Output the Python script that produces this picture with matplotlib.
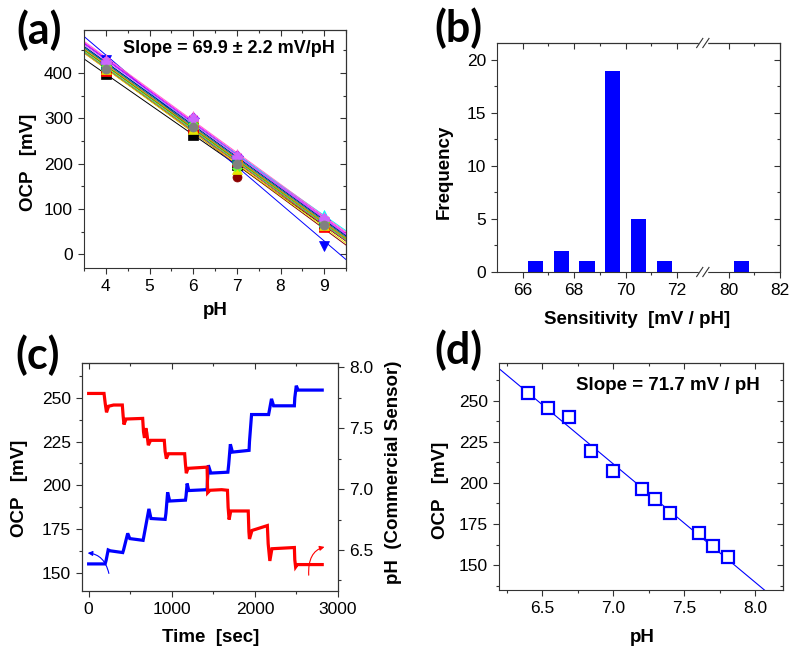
import numpy as np
import matplotlib
matplotlib.use("Agg")
import matplotlib.pyplot as plt
from matplotlib.ticker import MultipleLocator, FixedLocator

plt.rcParams['font.family'] = ['Liberation Sans', 'DejaVu Sans']

# ---------------- (a) OCP vs pH for each sensor ----------------
PH_LEVELS = [4, 6, 7, 9]
SENSOR_OCP = [
    [398, 263, 198, 63],
    [405, 278, 205, 60],
    [428, 288, 205, 18],
    [412, 285, 205, 66],
    [428, 302, 218, 80],
    [422, 296, 212, 88],
    [415, 282, 170, 68],
    [410, 276, 188, 64],
    [425, 300, 216, 76],
    [414, 286, 204, 70],
    [420, 294, 212, 74],
    [430, 305, 222, 82],
    [416, 288, 206, 70],
    [418, 290, 210, 72],
    [411, 284, 196, 68],
    [424, 298, 214, 78],
    [409, 280, 200, 65],
]
SENSOR_COLORS = ['black', 'red', 'blue', '#00cc00', 'magenta', 'cyan', '#8b0000',
                 '#e6e600', '#8000ff', '#808000', '#000080', '#ff66cc', '#ff8000',
                 '#008080', '#66ff33', '#cc66ff', 'gray']
SENSOR_MARKERS = ['s', 's', 'v', 'o', '*', '^', 'o', '^', 'D', 'h', 'p', '*', '<',
                  '>', 'X', 'P', 'o']
SLOPE_A = "Slope = 69.9 \u00b1 2.2 mV/pH"

# ---------------- (b) histogram of sensitivities ----------------
SENS_BINS = [66.5, 67.5, 68.5, 69.5, 70.5, 71.5, 80.5]
SENS_COUNTS = [1, 2, 1, 19, 5, 1, 1]
BREAK_LO, BREAK_HI = 73, 79          # axis jumps from 73 to 79
SENS_TICKS = [66, 68, 70, 72, 80, 82]

# ---------------- (c) time trace ----------------
OCP_T = [0, 198, 210, 235, 260, 410, 420, 470, 495, 655, 665, 725, 750, 920,
         930, 950, 975, 1165, 1172, 1185, 1205, 1425, 1430, 1440, 1470, 1675,
         1685, 1705, 1730, 1930, 1935, 1960, 2165, 2175, 2200, 2225, 2475, 2480,
         2498, 2520, 2810]
OCP_MV = [155, 155, 157, 163, 162.5, 161.5, 163, 172.5, 169.5, 168.5, 171, 186.5,
          181, 180.5, 184, 196, 191, 191.5, 194, 201, 197, 197.5, 203, 211.5, 207,
          207.5, 212, 223.5, 219, 220, 225, 240.5, 240.5, 243, 249.5, 245.5, 245.5,
          250, 257, 254.5, 254.5]
PH_T = [0, 185, 200, 215, 240, 300, 405, 415, 425, 450, 650, 660, 672, 688, 700,
        718, 745, 910, 920, 935, 960, 1155, 1165, 1175, 1195, 1425, 1432, 1460,
        1600, 1670, 1678, 1690, 1710, 1920, 1928, 1935, 1965, 2150, 2160, 2180,
        2205, 2475, 2480, 2490, 2510, 2810]
PH_VAL = [7.785, 7.785, 7.70, 7.63, 7.68, 7.69, 7.69, 7.60, 7.53, 7.575, 7.58,
          7.47, 7.42, 7.50, 7.46, 7.36, 7.40, 7.40, 7.31, 7.25, 7.29, 7.29, 7.20,
          7.13, 7.17, 7.18, 6.97, 6.99, 6.995, 6.99, 6.85, 6.75, 6.82, 6.82, 6.65,
          6.59, 6.66, 6.70, 6.55, 6.41, 6.51, 6.52, 6.42, 6.36, 6.38, 6.38]

# ---------------- (d) calibration ----------------
CAL_PH = [6.40, 6.54, 6.69, 6.84, 7.00, 7.20, 7.29, 7.40, 7.60, 7.70, 7.81]
CAL_OCP = [254.5, 245.7, 239.9, 219.6, 207.2, 196.2, 190.2, 181.4, 169.3, 161.8, 154.7]
SLOPE_D = "Slope = 71.7 mV / pH"

W, H = 800, 657
fig = plt.figure(figsize=(W / 100, H / 100), dpi=100)


def px_axes(l, t, r, b):
    return fig.add_axes([l / W, 1 - b / H, (r - l) / W, (b - t) / H])


def px_text(x, y, s, **kw):
    fig.text(x / W, 1 - y / H, s, ha='center', va='center', **kw)


TICK_KW = dict(labelsize=12.5, width=0.8, color='#333333')


def base_ticks(ax):
    ax.tick_params(which='both', direction='out', **TICK_KW)
    ax.tick_params(which='major', length=4.5)
    ax.tick_params(which='minor', length=2.5)
    for s in ax.spines.values():
        s.set_linewidth(0.8)
        s.set_color('#333333')


def mirror(ax, xmaj, xmin, ymaj=None, ymin=None):
    # Origin style: top/right ticks point inward, bottom/left point outward
    top = ax.secondary_xaxis('top')
    top.xaxis.set_major_locator(xmaj)
    top.xaxis.set_minor_locator(xmin)
    top.tick_params(which='both', direction='in', labeltop=False, **TICK_KW)
    top.tick_params(which='major', length=4.5)
    top.tick_params(which='minor', length=2.5)
    if ymaj is not None:
        right = ax.secondary_yaxis('right')
        right.yaxis.set_major_locator(ymaj)
        right.yaxis.set_minor_locator(ymin)
        right.tick_params(which='both', direction='in', labelright=False, **TICK_KW)
        right.tick_params(which='major', length=4.5)
        right.tick_params(which='minor', length=2.5)


LETTER_KW = dict(fontsize=31, fontweight='bold', family=['Lato', 'DejaVu Sans'])
LABEL_KW = dict(fontsize=13.5, fontweight='bold')

# ---------- (a) ----------
axa = px_axes(84, 30, 346, 268)
xfit = np.array([3.0, 10.0])
for vals, c in zip(SENSOR_OCP, SENSOR_COLORS):
    coef = np.polyfit(PH_LEVELS, vals, 1)
    axa.plot(xfit, np.polyval(coef, xfit), color=c, lw=0.7, zorder=2)
for vals, c, m in zip(SENSOR_OCP, SENSOR_COLORS, SENSOR_MARKERS):
    axa.plot(PH_LEVELS, vals, ls='none', marker=m, color=c, ms=6.5, mew=0.5,
             mec=c, zorder=3)
axa.set_xlim(3.5, 9.5)
axa.set_ylim(-30, 495)
axa.xaxis.set_major_locator(MultipleLocator(1))
axa.xaxis.set_minor_locator(MultipleLocator(0.5))
axa.yaxis.set_major_locator(FixedLocator([0, 100, 200, 300, 400]))
axa.yaxis.set_minor_locator(FixedLocator([50, 150, 250, 350, 450]))
base_ticks(axa)
mirror(axa, MultipleLocator(1), MultipleLocator(0.5),
       FixedLocator([0, 100, 200, 300, 400]), FixedLocator([50, 150, 250, 350, 450]))
axa.text(0.553, 0.924, SLOPE_A, transform=axa.transAxes, ha='center', va='center',
         fontsize=13, fontweight='bold')
px_text(29, 162, "OCP   [mV]", rotation=90, **LABEL_KW)
px_text(215, 311, "pH", **LABEL_KW)
px_text(39, 30, "(a)", **LETTER_KW)

# ---------- (b) ----------
axb = px_axes(497, 43, 780, 272)


def brk(v):
    v = np.asarray(v, dtype=float)
    return np.where(v > BREAK_LO, v - (BREAK_HI - BREAK_LO), v)


axb.bar(brk(SENS_BINS), SENS_COUNTS, width=0.6, color='#0000ff', zorder=2)
axb.set_xlim(65, 76)
axb.set_ylim(0, 21.6)
axb.xaxis.set_major_locator(FixedLocator(brk(SENS_TICKS)))
axb.set_xticklabels([str(t) for t in SENS_TICKS])
axb.xaxis.set_minor_locator(FixedLocator(brk([67, 69, 71, 81])))
axb.yaxis.set_major_locator(MultipleLocator(5))
axb.yaxis.set_minor_locator(MultipleLocator(2.5))
base_ticks(axb)
mirror(axb, FixedLocator(brk(SENS_TICKS)), FixedLocator(brk([67, 69, 71, 81])),
       MultipleLocator(5), MultipleLocator(2.5))
# break marks on bottom and top spines
tr = axb.get_xaxis_transform()
for yb in (0, 1):
    axb.plot([BREAK_LO - 0.12, BREAK_LO + 0.12], [yb, yb], transform=tr, color='white',
             lw=2.5, clip_on=False, zorder=5)
    for dx in (-0.12, 0.12):
        axb.plot([BREAK_LO + dx - 0.12, BREAK_LO + dx + 0.12], [yb - 0.02, yb + 0.02],
                 transform=tr, color='#333333', lw=0.8, clip_on=False, zorder=6)
px_text(444, 172, "Frequency", rotation=90, **LABEL_KW)
px_text(637, 320, "Sensitivity  [mV / pH]", **LABEL_KW)
px_text(458, 28, "(b)", **LETTER_KW)

# ---------- (c) ----------
axc = px_axes(82, 363, 338, 591)
axc.plot(OCP_T, OCP_MV, color='#0000ff', lw=2.3, solid_joinstyle='miter')
axc.set_xlim(-80, 3000)
axc.set_ylim(139.5, 270)
axc.xaxis.set_major_locator(MultipleLocator(1000))
axc.xaxis.set_minor_locator(MultipleLocator(500))
axc.yaxis.set_major_locator(FixedLocator([150, 175, 200, 225, 250]))
axc.yaxis.set_minor_locator(FixedLocator([137.5, 162.5, 187.5, 212.5, 237.5, 262.5]))
base_ticks(axc)
axc.tick_params(right=False)
mirror(axc, MultipleLocator(1000), MultipleLocator(500))
axc.annotate("", xy=(-45, 161.3), xytext=(250, 148),
             arrowprops=dict(arrowstyle='-|>', color='#0000ff', lw=0.8,
                             mutation_scale=7,
                             connectionstyle='angle3,angleA=100,angleB=0'))
axc2 = axc.twinx()
axc2.plot(PH_T, PH_VAL, color='#ff0000', lw=2.3, solid_joinstyle='miter')
axc2.set_ylim(6.163, 8.035)
axc2.yaxis.set_major_locator(MultipleLocator(0.5))
axc2.yaxis.set_minor_locator(MultipleLocator(0.25))
axc2.yaxis.set_major_formatter(matplotlib.ticker.FormatStrFormatter('%.1f'))
base_ticks(axc2)
axc2.annotate("", xy=(2870, 6.53), xytext=(2650, 6.27),
              arrowprops=dict(arrowstyle='-|>', color='#ff0000', lw=0.8,
                              mutation_scale=7,
                              connectionstyle='angle3,angleA=95,angleB=10'))
px_text(20, 488, "OCP   [mV]", rotation=90, **LABEL_KW)
px_text(211, 637, "Time  [sec]", **LABEL_KW)
px_text(394, 472, "pH  (Commercial Sensor)", rotation=90, **LABEL_KW)
px_text(38, 355, "(c)", **LETTER_KW)

# ---------- (d) ----------
axd = px_axes(499, 363, 783, 590)
coef_d = np.polyfit(CAL_PH, CAL_OCP, 1)
xline = np.array([6.0, 8.4])
axd.plot(xline, np.polyval(coef_d, xline), color='#0000ff', lw=0.8)
axd.plot(CAL_PH, CAL_OCP, ls='none', marker='s', ms=8.5, mfc='white', mec='#0000ff',
         mew=1.6)
axd.set_xlim(6.194, 8.195)
axd.set_ylim(134.8, 273)
axd.xaxis.set_major_locator(MultipleLocator(0.5))
axd.xaxis.set_minor_locator(MultipleLocator(0.25))
axd.xaxis.set_major_formatter(matplotlib.ticker.FormatStrFormatter('%.1f'))
axd.yaxis.set_major_locator(FixedLocator([150, 175, 200, 225, 250]))
axd.yaxis.set_minor_locator(FixedLocator([137.5, 162.5, 187.5, 212.5, 237.5, 262.5]))
base_ticks(axd)
mirror(axd, MultipleLocator(0.5), MultipleLocator(0.25),
       FixedLocator([150, 175, 200, 225, 250]),
       FixedLocator([137.5, 162.5, 187.5, 212.5, 237.5, 262.5]))
axd.text(0.595, 0.903, SLOPE_D, transform=axd.transAxes, ha='center', va='center',
         fontsize=13.5, fontweight='bold')
px_text(440, 490, "OCP   [mV]", rotation=90, **LABEL_KW)
px_text(642, 638, "pH", **LABEL_KW)
px_text(458, 350, "(d)", **LETTER_KW)

fig.savefig("out.png", dpi=100)
